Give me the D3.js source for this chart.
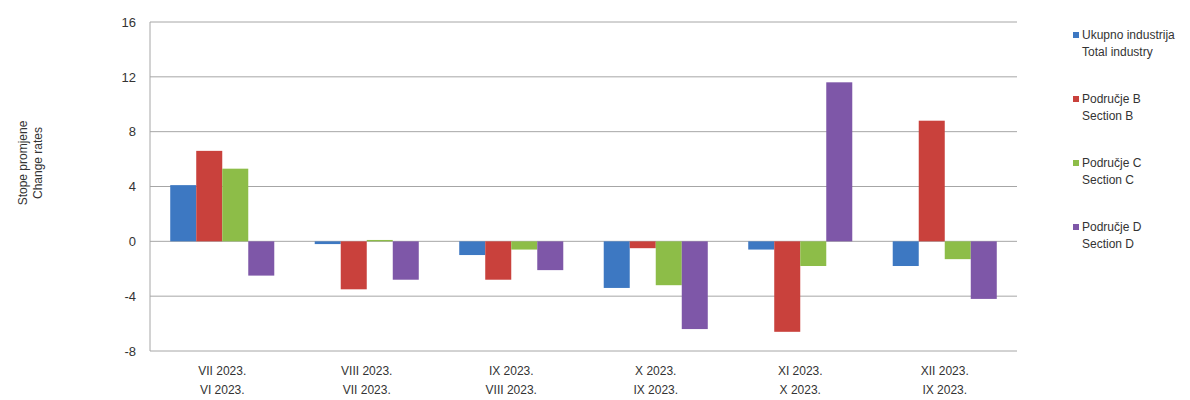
<!DOCTYPE html>
<html>
<head>
<meta charset="utf-8">
<script src="https://cdn.jsdelivr.net/npm/d3@7"></script>
<style>
    body { margin: 0; background: #fff; }
    svg text { font-family: "Liberation Sans Narrow", "Arial Narrow", "Liberation Sans", sans-serif; fill: #333; }
</style>
</head>
<body>
<div id="chart"></div>
<script>
/******************************************************
 * Change rates chart - industry by section
*******************************************************/

//! DATA
const periods = [
    ["VII 2023.", "VI 2023."],
    ["VIII 2023.", "VII 2023."],
    ["IX 2023.", "VIII 2023."],
    ["X 2023.", "IX 2023."],
    ["XI 2023.", "X 2023."],
    ["XII 2023.", "IX 2023."]
];
const seriesNames = [
    ["Ukupno industrija", "Total industry"],
    ["Područje B", "Section B"],
    ["Područje C", "Section C"],
    ["Područje D", "Section D"]
];
const totalIndustry = [4.1, -0.2, -1.0, -3.4, -0.6, -1.8];
const sectionB = [6.6, -3.5, -2.8, -0.5, -6.6, 8.8];
const sectionC = [5.3, 0.1, -0.6, -3.2, -1.8, -1.3];
const sectionD = [-2.5, -2.8, -2.1, -6.4, 11.6, -4.2];
const yTicks = [-8, -4, 0, 4, 8, 12, 16];

//! CONSTANTS
const WIDTH = 1190;
const HEIGHT = 400;
const COLORS = ["#3d78c2", "#c9413c", "#8dbd48", "#7e57a8"];
const PLOT = { left: 150, right: 1017, top: 22, bottom: 351 };
const LEGEND_STEP = 64;

const values = [totalIndustry, sectionB, sectionC, sectionD];

const svg = d3.select("#chart").append("svg")
    .attr("width", WIDTH)
    .attr("height", HEIGHT);

// Scales
const x0 = d3.scaleBand()
    .domain(d3.range(periods.length))
    .range([PLOT.left, PLOT.right])
    .paddingInner(0.28)
    .paddingOuter(0.14);

const x1 = d3.scaleBand()
    .domain(d3.range(seriesNames.length))
    .range([0, x0.bandwidth()]);

const y = d3.scaleLinear()
    .domain([-8, 16])
    .range([PLOT.bottom, PLOT.top]);

// Gridlines
svg.append("g")
    .selectAll("line")
    .data(yTicks)
    .enter().append("line")
    .attr("x1", PLOT.left)
    .attr("x2", PLOT.right)
    .attr("y1", d => y(d))
    .attr("y2", d => y(d))
    .style("stroke", "#a6a6a6")
    .style("stroke-width", 1);

// Left axis line
svg.append("line")
    .attr("x1", PLOT.left).attr("x2", PLOT.left)
    .attr("y1", PLOT.top).attr("y2", PLOT.bottom)
    .style("stroke", "#a6a6a6");

// Y axis labels (plain hyphen minus, like the original)
const yAxis = d3.axisLeft(y)
    .tickValues(yTicks)
    .tickFormat(d => String(d))
    .tickSize(0)
    .tickPadding(14);
const gy = svg.append("g")
    .attr("transform", `translate(${PLOT.left},0)`)
    .call(yAxis);
gy.select(".domain").remove();
gy.selectAll("text")
    .style("font-family", "'Liberation Sans', Arial, sans-serif")
    .style("font-size", "13px")
    .style("fill", "#333");

// Y title
const yTitle = svg.append("text")
    .attr("transform", "translate(31,163) rotate(-90)")
    .attr("text-anchor", "middle")
    .style("font-size", "12px");
yTitle.append("tspan").attr("x", 0).attr("dy", "-0.35em").text("Stope promjene");
yTitle.append("tspan").attr("x", 0).attr("dy", "1.3em").text("Change rates");

// Bars
const groups = svg.append("g")
    .selectAll("g")
    .data(periods)
    .enter().append("g")
    .attr("transform", (d, i) => `translate(${x0(i)},0)`);

groups.selectAll("rect")
    .data((d, i) => values.map((s, j) => ({ s: j, v: s[i] })))
    .enter().append("rect")
    .attr("x", d => x1(d.s))
    .attr("width", x1.bandwidth())
    .attr("y", d => y(Math.max(0, d.v)))
    .attr("height", d => Math.abs(y(d.v) - y(0)))
    .style("fill", d => COLORS[d.s]);

// X labels
const xLabels = svg.append("g")
    .selectAll("text")
    .data(periods)
    .enter().append("text")
    .attr("text-anchor", "middle")
    .attr("x", (d, i) => x0(i) + x0.bandwidth() / 2)
    .attr("y", 375)
    .style("font-size", "12px");
xLabels.append("tspan")
    .attr("x", (d, i) => x0(i) + x0.bandwidth() / 2)
    .text(d => d[0]);
xLabels.append("tspan")
    .attr("x", (d, i) => x0(i) + x0.bandwidth() / 2)
    .attr("dy", 19)
    .text(d => d[1]);

// Legend
const legend = svg.append("g")
    .selectAll("g")
    .data(seriesNames)
    .enter().append("g")
    .attr("transform", (d, i) => `translate(1073,${35 + i * LEGEND_STEP})`);

legend.append("rect")
    .attr("x", 0).attr("y", -3)
    .attr("width", 6).attr("height", 6)
    .style("fill", (d, i) => COLORS[i]);

legend.append("text")
    .attr("x", 9).attr("y", 4)
    .style("font-size", "12px")
    .text(d => d[0]);
legend.append("text")
    .attr("x", 9).attr("y", 21)
    .style("font-size", "12px")
    .text(d => d[1]);
</script>
</body>
</html>
